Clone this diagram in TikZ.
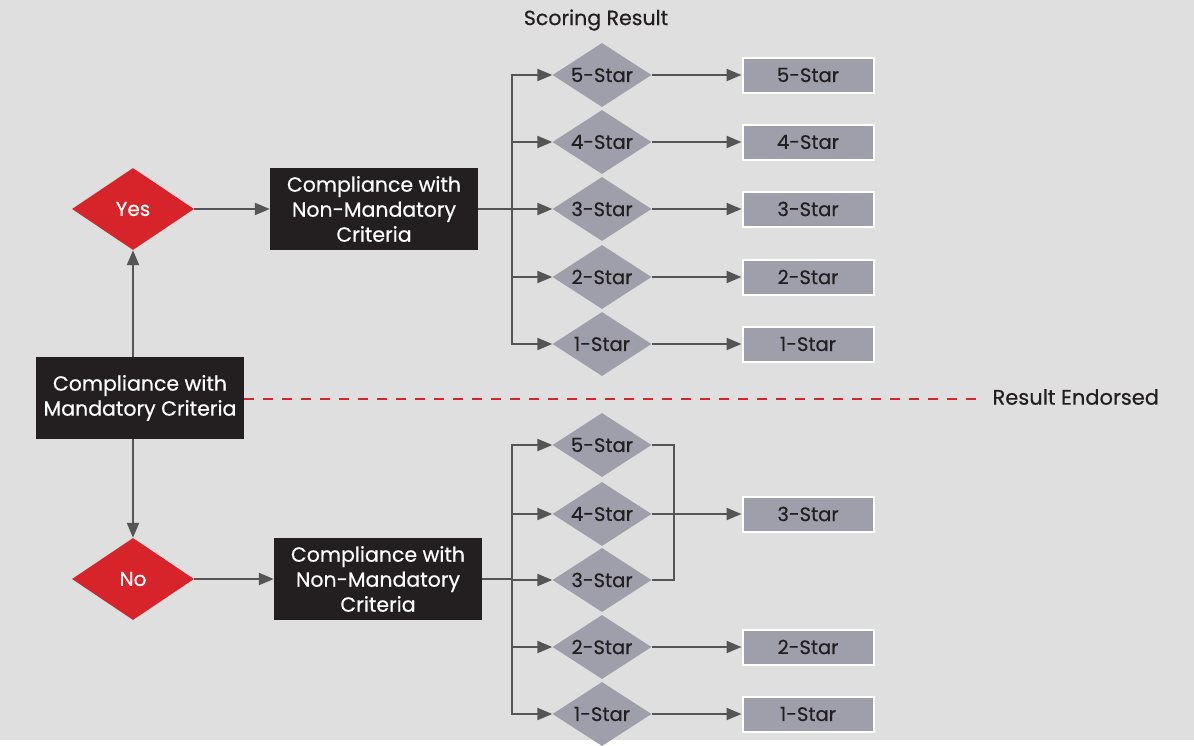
\documentclass[tikz,border=0pt]{standalone}
\usepackage{fontspec}
\setmainfont{Poppins}[FakeBold=0.5]
\usetikzlibrary{shapes.geometric,arrows.meta}
\definecolor{bgGray}{HTML}{DFDFDF}
\definecolor{critRed}{HTML}{D7232A}
\definecolor{starGray}{HTML}{9E9FAA}
\definecolor{boxBlack}{HTML}{231F20}
\definecolor{lineGray}{HTML}{555555}
\begin{document}
\begin{tikzpicture}[x=1pt,y=-1pt,
	decide/.style={diamond,fill=critRed,text=white,minimum width=122pt,minimum height=82pt,inner sep=0pt,font=\fontsize{20}{24}\selectfont},
	crit/.style={fill=boxBlack,text=white,align=center,minimum width=208pt,minimum height=82pt,inner sep=0pt,font=\fontsize{20.5}{25}\selectfont},
	star/.style={diamond,fill=starGray,text=boxBlack,aspect=1.55,minimum width=99pt,minimum height=64pt,inner sep=0pt,font=\fontsize{19.5}{22}\selectfont},
	result/.style={fill=starGray,draw=white,line width=2pt,text=boxBlack,minimum width=131pt,minimum height=35pt,inner sep=0pt,font=\fontsize{19.5}{22}\selectfont},
	conn/.style={draw=lineGray,line width=2.2pt},
	flow/.style={conn,-{Triangle[length=15pt,width=12pt]}}]
\fill[bgGray] (0,0) rectangle (1194,740);
\node[font=\fontsize{20.5}{24}\selectfont,text=boxBlack] (title) at (596,20) {Scoring Result};
% left column
\node[crit] (mand) at (140,398) {Compliance with\\Mandatory Criteria};
\node[decide] (yes) at (133,209) {Yes};
\node[decide] (no) at (133,579) {No};
\node[crit] (nmUp) at (374,209) {Compliance with\\Non-Mandatory\\Criteria};
\node[crit] (nmLo) at (378,579) {Compliance with\\Non-Mandatory\\Criteria};
\draw[flow] (yes|-mand.north) -- (yes.south);
\draw[flow] (yes|-mand.south) -- (no.north);
\draw[flow] (yes.east) -- (nmUp.west);
\draw[flow] (no.east) -- (nmLo.west);
% endorsement line
\node[anchor=west,font=\fontsize{21}{24}\selectfont,text=boxBlack] (endorse) at (989,397) {Result Endorsed};
\draw[critRed,line width=2pt,dash pattern=on 10pt off 9pt] (mand.east|-0,399) -- ([xshift=-6pt]endorse.west|-0,399);
% upper scoring
\coordinate (busUp) at (512,0);
\foreach \n/\y in {5/75,4/142,3/209,2/277,1/344}
{
	\node[star] (su\n) at (602,\y) {\n-Star};
	\node[result] (ru\n) at (808,\y) {\n-Star};
	\draw[flow] (su\n.east) -- (ru\n.west);
}
\draw[conn,{Triangle[length=15pt,width=12pt]}-{Triangle[length=15pt,width=12pt]}] (su5.west) -- (busUp|-su5.west) -- (busUp|-su1.west) -- (su1.west);
\foreach \n in {4,3,2}
	\draw[flow] (busUp|-su\n.west) -- (su\n.west);
\draw[conn] (nmUp.east) -- (busUp|-nmUp.east);
% lower scoring
\coordinate (busLo) at (512,0);
\coordinate (mergeX) at (674,0);
\foreach \n/\y in {5/445,4/514,3/580,2/647,1/714}
	\node[star] (sl\n) at (602,\y) {\n-Star};
\foreach \n/\y in {3/514,2/647,1/714}
	\node[result] (rl\n) at (808,\y) {\n-Star};
\draw[conn,{Triangle[length=15pt,width=12pt]}-{Triangle[length=15pt,width=12pt]}] (sl5.west) -- (busLo|-sl5.west) -- (busLo|-sl1.west) -- (sl1.west);
\foreach \n in {4,3,2}
	\draw[flow] (busLo|-sl\n.west) -- (sl\n.west);
\draw[conn] (nmLo.east) -- (busLo|-nmLo.east);
\draw[conn] (sl5.east) -- (mergeX|-sl5.east) -- (mergeX|-sl3.east) -- (sl3.east);
\draw[flow] (sl4.east) -- (rl3.west);
\draw[flow] (sl2.east) -- (rl2.west);
\draw[flow] (sl1.east) -- (rl1.west);
\end{tikzpicture}
\end{document}
